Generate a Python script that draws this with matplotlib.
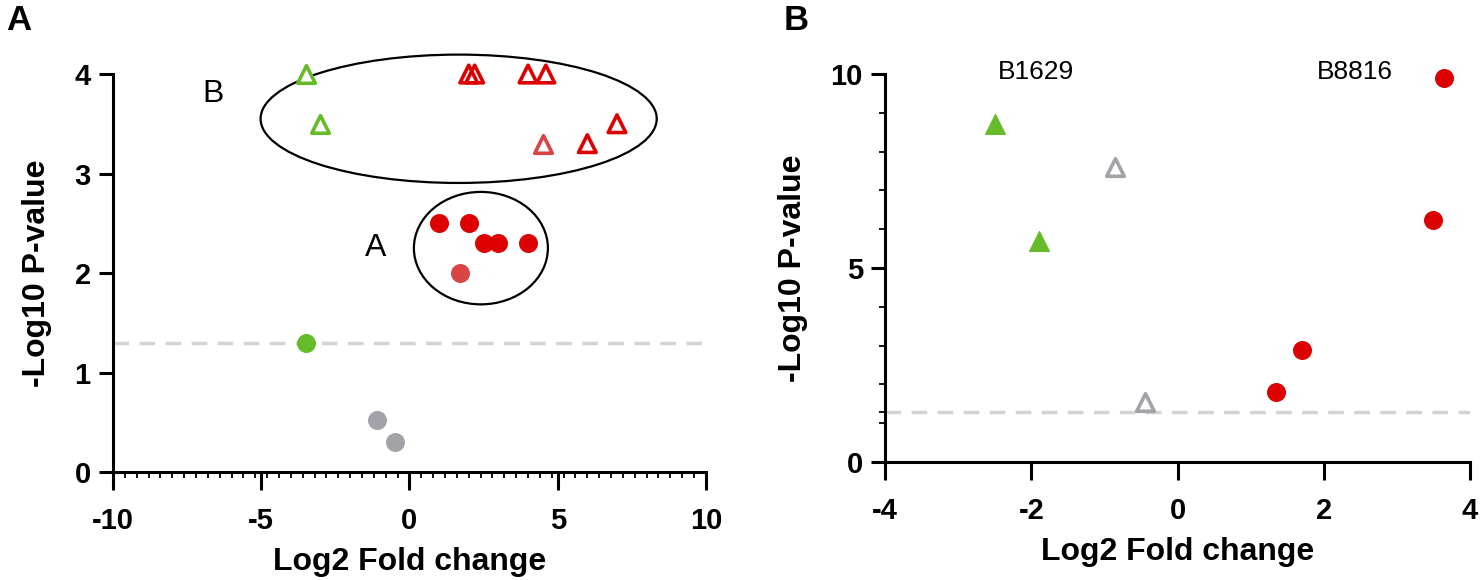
import numpy as np
import matplotlib
matplotlib.use('Agg')
import matplotlib.pyplot as plt
from matplotlib.patches import Ellipse
from matplotlib.ticker import MultipleLocator, FixedLocator

plt.rcParams['font.family'] = ['Liberation Sans', 'DejaVu Sans']
plt.rcParams['axes.unicode_minus'] = False

# Panel A values
a_red_circ_x = [1.0, 2.0, 2.5, 3.0, 4.0]
a_red_circ_y = [2.5, 2.5, 2.3, 2.3, 2.3]
a_faded_circ_x = [1.7]
a_faded_circ_y = [2.0]
a_green_circ_x = [-3.5]
a_green_circ_y = [1.3]
a_gray_circ_x = [-1.1, -0.5]
a_gray_circ_y = [0.52, 0.3]
a_green_tri_x = [-3.5, -3.0]
a_green_tri_y = [4.0, 3.5]
a_red_tri_x = [2.0, 2.2, 4.0, 4.6, 7.0, 6.0]
a_red_tri_y = [4.0, 4.0, 4.0, 4.0, 3.5, 3.3]
a_faded_tri_x = [4.5]
a_faded_tri_y = [3.3]

# Panel B values
b_green_tri_x = [-2.5, -1.9]
b_green_tri_y = [8.7, 5.7]
b_gray_tri_x = [-0.85, -0.45]
b_gray_tri_y = [7.6, 1.55]
b_red_circ_x = [1.35, 1.7, 3.5, 3.65]
b_red_circ_y = [1.8, 2.9, 6.25, 9.9]
b_labels = ['B1629', 'B8816']
b_label_x = [-1.93, 2.43]

threshold = 1.3

red = '#DD0000'
faded = '#D94444'
green = '#66BB2A'
gray = '#A2A2A8'
dash = '#D3D3D3'

fig = plt.figure(figsize=(14.84, 5.80), dpi=100)
axA = fig.add_axes([0.0761, 0.1862, 0.3996, 0.6862])
axB = fig.add_axes([0.5964, 0.2034, 0.3942, 0.6690])


def style_axis(ax):
    for s in ['top', 'right']:
        ax.spines[s].set_visible(False)
    for s in ['left', 'bottom']:
        ax.spines[s].set_linewidth(2.2)
    ax.tick_params(axis='x', which='major', length=13, width=2.2, labelsize=21, pad=12)
    ax.tick_params(axis='y', which='major', length=10, width=2.2, labelsize=21, pad=6)
    ax.tick_params(which='minor', length=4, width=1.3)
    for lab in ax.get_xticklabels() + ax.get_yticklabels():
        lab.set_fontweight('bold')
    ax.set_xlabel('Log2 Fold change', fontsize=23, fontweight='bold', labelpad=9)
    ax.set_ylabel('-Log10 P-value', fontsize=23, fontweight='bold', labelpad=16)


# ---- Panel A ----
axA.axhline(threshold, color=dash, lw=2.5, ls=(0, (4.5, 3)), zorder=1)
axA.scatter(a_red_circ_x, a_red_circ_y, s=160, color=red, zorder=3, clip_on=False)
axA.scatter(a_faded_circ_x, a_faded_circ_y, s=160, color=faded, zorder=3)
axA.scatter(a_green_circ_x, a_green_circ_y, s=160, color=green, zorder=3)
axA.scatter(a_gray_circ_x, a_gray_circ_y, s=160, color=gray, zorder=3)
axA.scatter(a_green_tri_x, a_green_tri_y, s=160, marker='^', facecolor='white',
            edgecolor=green, linewidth=2.6, zorder=3, clip_on=False)
axA.scatter(a_red_tri_x, a_red_tri_y, s=160, marker='^', facecolor='none',
            edgecolor=red, linewidth=2.6, zorder=3, clip_on=False)
axA.scatter(a_faded_tri_x, a_faded_tri_y, s=160, marker='^', facecolor='white',
            edgecolor=faded, linewidth=2.6, zorder=3)

axA.add_patch(Ellipse((1.66, 3.55), 13.36, 1.29, fill=False, lw=1.6,
                      color='black', clip_on=False, zorder=2))
axA.add_patch(Ellipse((2.41, 2.25), 4.52, 1.13, fill=False, lw=1.6,
                      color='black', clip_on=False, zorder=2))
axA.text(-6.63, 3.80, 'B', fontsize=23, ha='center', va='center')
axA.text(-1.13, 2.25, 'A', fontsize=23, ha='center', va='center')

axA.set_xlim(-10, 10)
axA.set_ylim(0, 4)
axA.xaxis.set_major_locator(MultipleLocator(5))
axA.xaxis.set_minor_locator(MultipleLocator(0.4))
axA.yaxis.set_major_locator(MultipleLocator(1))
style_axis(axA)

# ---- Panel B ----
axB.axhline(threshold, color=dash, lw=2.5, ls=(0, (4.5, 3)), zorder=1)
axB.scatter(b_green_tri_x, b_green_tri_y, s=200, marker='^', color=green, zorder=3)
axB.scatter(b_gray_tri_x, b_gray_tri_y, s=160, marker='^', facecolor='white',
            edgecolor=gray, linewidth=2.6, zorder=3)
axB.scatter(b_red_circ_x, b_red_circ_y, s=160, color=red, zorder=3, clip_on=False)
for lab, lx in zip(b_labels, b_label_x):
    axB.text(lx, 10.06, lab, fontsize=19, ha='center', va='center')

axB.set_xlim(-4, 4)
axB.set_ylim(0, 10)
axB.xaxis.set_major_locator(MultipleLocator(2))
axB.yaxis.set_major_locator(MultipleLocator(5))
axB.yaxis.set_minor_locator(FixedLocator([1, 1.3, 2, 3, 4, 6, 7, 8, 9]))
style_axis(axB)

fig.text(0.004, 0.965, 'A', fontsize=25, fontweight='bold', ha='left', va='center')
fig.text(0.528, 0.965, 'B', fontsize=25, fontweight='bold', ha='left', va='center')

fig.savefig('out.png', dpi=100)
